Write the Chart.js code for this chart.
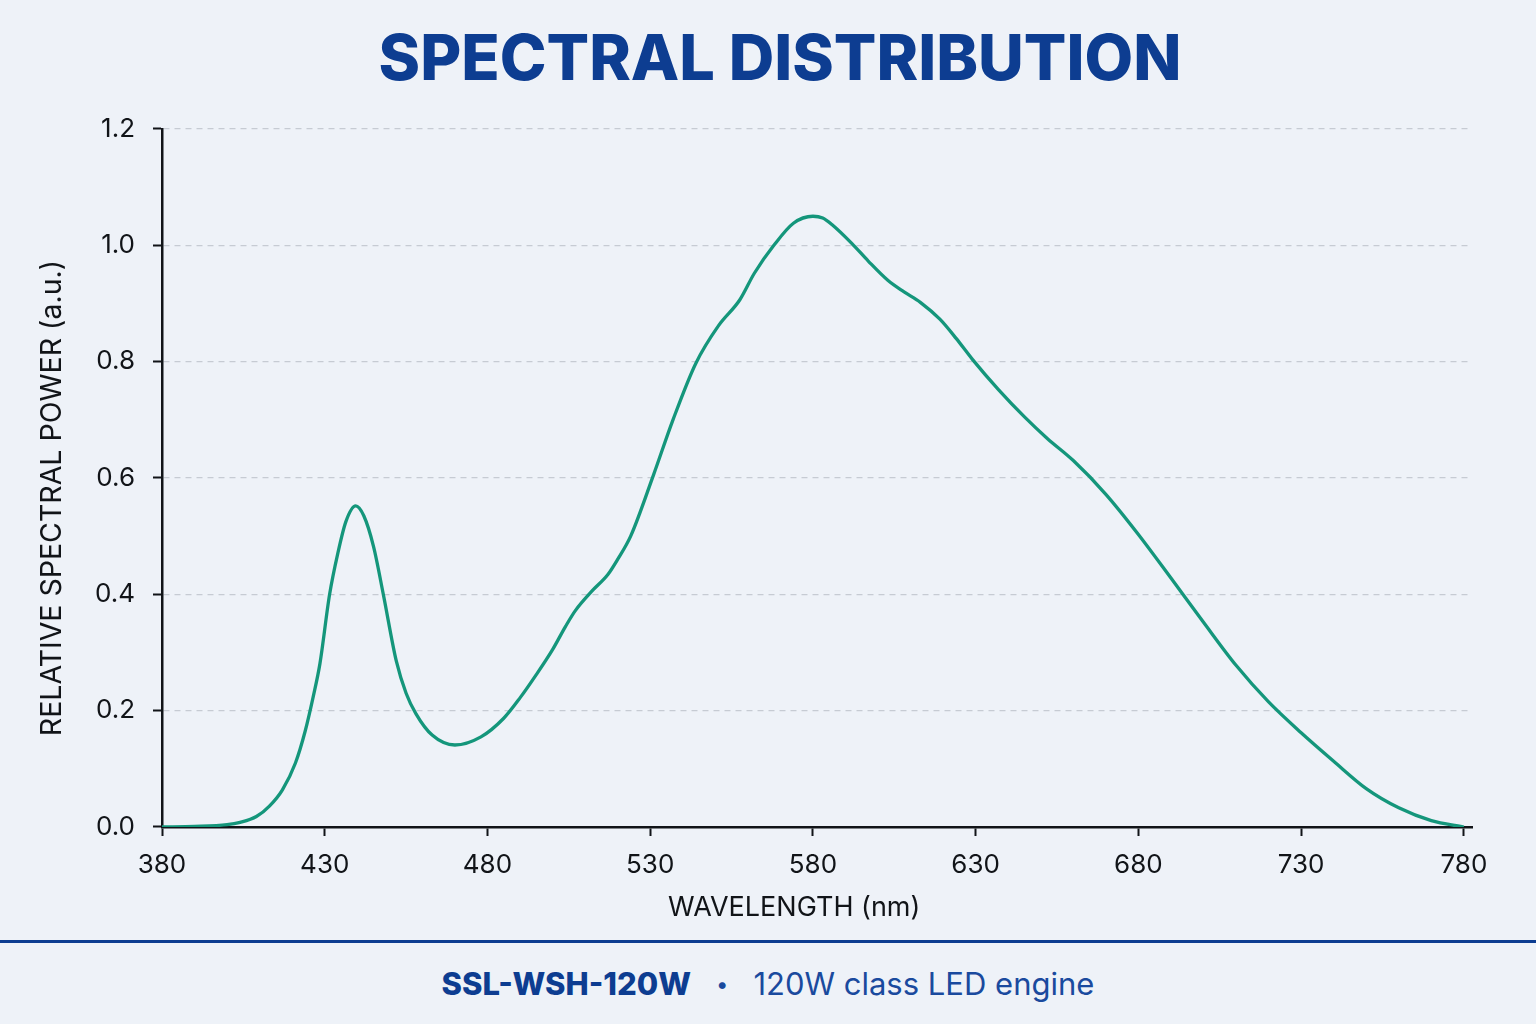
<!DOCTYPE html>
<html>
<head>
<meta charset="utf-8">
<script src="https://cdn.jsdelivr.net/npm/chart.js@4.4.1/dist/chart.umd.min.js"></script>
<style>
  html, body { margin: 0; padding: 0; background: #eef2f8; }
  body { width: 1536px; height: 1024px; overflow: hidden; font-family: Inter, "Noto Sans", sans-serif; }
  #title {
    position: absolute; left: 0; top: 19px; width: 1560px;
    text-align: center; line-height: 76px;
    font-size: 63px; font-weight: 800; color: #0d3d91;
  }
  #wrap { position: relative; width: 1536px; height: 940px; }
  #footer {
    border-top: 3px solid #0d3d91;
    height: 81px;
    display: flex; align-items: center; justify-content: center;
    font-size: 31px; color: #1a4a9e;
  }
  #footer b { color: #0d3d91; font-weight: 800; }
  #footer .dot { margin: 0 25px; font-size: 22px; }
</style>
</head>
<body>
<div id="wrap"><canvas id="spd"></canvas></div>
<div id="title">SPECTRAL DISTRIBUTION</div>
<div id="footer"><b>SSL-WSH-120W</b><span class="dot">•</span><span>120W class LED engine</span></div>
<script>
// wavelength (nm) and relative spectral power
const wavelengths = [380, 390, 400, 404, 409, 413, 417, 421, 424, 426.5, 428.5, 431.5, 434, 436.5, 439.5, 442, 445, 448, 452, 455, 458, 463, 470, 478, 485, 490, 495, 500, 504, 507, 512, 517, 520, 524, 531, 537, 544, 551, 557.5, 562, 568, 574, 580, 583, 586, 592, 597, 603, 608, 613, 619, 624, 629, 637, 645, 652, 660, 670, 680, 690, 700, 710, 720, 730, 740, 750, 760, 770, 780];
const power = [0, 0.001, 0.004, 0.008, 0.018, 0.036, 0.064, 0.11, 0.165, 0.225, 0.28, 0.40, 0.47, 0.525, 0.552, 0.535, 0.482, 0.40, 0.285, 0.23, 0.195, 0.158, 0.141, 0.155, 0.187, 0.222, 0.262, 0.305, 0.345, 0.372, 0.405, 0.434, 0.46, 0.50, 0.605, 0.70, 0.797, 0.862, 0.906, 0.952, 1.0, 1.038, 1.05, 1.047, 1.035, 1.003, 0.973, 0.94, 0.92, 0.902, 0.873, 0.84, 0.804, 0.752, 0.705, 0.668, 0.63, 0.572, 0.503, 0.428, 0.352, 0.278, 0.215, 0.162, 0.113, 0.066, 0.033, 0.011, 0];
const xTicks = [380, 430, 480, 530, 580, 630, 680, 730, 780];
const yTicks = [0, 0.2, 0.4, 0.6, 0.8, 1.0, 1.2];

const ink = '#111418';
const fontFamily = 'Inter, "Noto Sans", sans-serif';
const tickFont = { family: fontFamily, size: 26 };
const nbsp = n => '\u00a0'.repeat(n);

new Chart(document.getElementById('spd'), {
  type: 'line',
  data: {
    datasets: [{
      data: wavelengths.map((w, i) => ({ x: w, y: power[i] })),
      borderColor: '#14967b',
      borderWidth: 3.3,
      pointRadius: 0,
      fill: false,
      cubicInterpolationMode: 'monotone'
    }]
  },
  options: {
    responsive: true,
    maintainAspectRatio: false,
    animation: false,
    layout: { padding: { left: 0, right: 64, top: 129, bottom: 0 } },
    plugins: {
      legend: { display: false },
      tooltip: { enabled: false },
      title: { display: false }
    },
    scales: {
      x: {
        type: 'linear',
        min: 380,
        max: 782.5,
        afterBuildTicks: s => { s.ticks = xTicks.map(v => ({ value: v })) },
        afterFit: s => { s.height = 113 },
        border: { color: ink, width: 2.5 },
        grid: { drawOnChartArea: false, drawTicks: true, tickLength: 9, tickColor: ink, tickWidth: 2 },
        ticks: { color: ink, font: tickFont, padding: 14, maxRotation: 0 },
        title: {
          display: true,
          text: 'WAVELENGTH (nm)' + nbsp(6),
          color: ink,
          font: { family: fontFamily, size: 27 },
          padding: { top: 0, bottom: 16 }
        }
      },
      y: {
        min: 0,
        max: 1.2,
        afterBuildTicks: s => { s.ticks = yTicks.map(v => ({ value: v })) },
        afterFit: s => { s.width = 162 },
        border: { color: ink, width: 2.5, dash: [6, 5] },
        grid: {
          color: '#c6cbd3',
          lineWidth: 1.2,
          tickLength: 9,
          tickColor: ink,
          tickWidth: 2,
          tickBorderDash: [1, 0]
        },
        ticks: { color: ink, font: tickFont, padding: 18, callback: v => v.toFixed(1) },
        title: {
          display: true,
          text: 'RELATIVE SPECTRAL POWER (a.u.)' + nbsp(5),
          color: ink,
          font: { family: fontFamily, size: 28.5 },
          padding: { top: 35, bottom: 0 }
        }
      }
    }
  }
});
</script>
</body>
</html>
